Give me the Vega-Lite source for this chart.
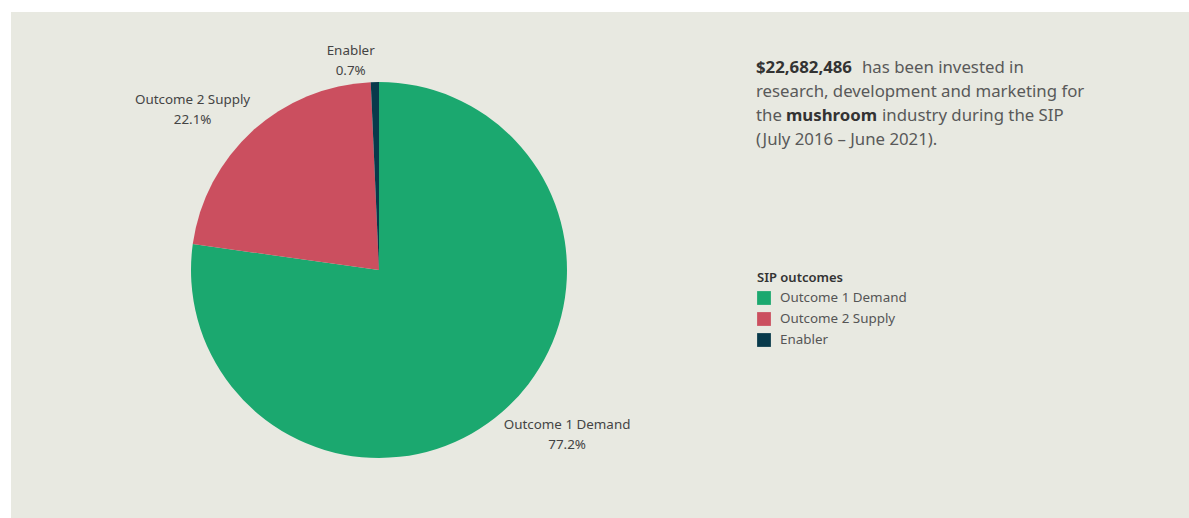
{
  "$schema": "https://vega.github.io/schema/vega-lite/v6.json",
  "background": "white",
  "padding": {"left": 11, "top": 12, "right": 0, "bottom": 0},
  "spacing": 0,
  "config": {
    "view": {"fill": "#e8e9e1", "stroke": null},
    "font": "Noto Sans",
    "concat": {"spacing": 0}
  },
  "hconcat": [
    {
      "width": 745,
      "height": 506,
      "view": {"fill": "#e8e9e1", "stroke": null},
      "data": {
        "values": [
          {"outcome": "Outcome 1 Demand", "rank": 1, "share": 77.2, "label": "Outcome 1 Demand\n77.2%"},
          {"outcome": "Outcome 2 Supply", "rank": 2, "share": 22.1, "label": "Outcome 2 Supply\n22.1%"},
          {"outcome": "Enabler", "rank": 3, "share": 0.7, "label": "Enabler\n0.7%"}
        ]
      },
      "encoding": {
        "theta": {"field": "share", "type": "quantitative", "stack": true},
        "order": {"field": "rank", "type": "quantitative", "sort": "ascending"}
      },
      "layer": [
        {
          "mark": {"type": "arc", "outerRadius": 188, "xOffset": -4.5, "yOffset": 5},
          "encoding": {
            "color": {
              "field": "outcome",
              "type": "nominal",
              "sort": ["Outcome 1 Demand", "Outcome 2 Supply", "Enabler"],
              "scale": {
                "domain": ["Outcome 1 Demand", "Outcome 2 Supply", "Enabler"],
                "range": ["#1ba86f", "#cb4f5f", "#083a4b"]
              },
              "legend": {
                "title": "SIP outcomes",
                "orient": "none",
                "legendX": 746,
                "legendY": 260,
                "symbolType": "square",
                "symbolSize": 190,
                "symbolStrokeWidth": 0,
                "labelFont": "Noto Sans",
                "labelFontSize": 13.4,
                "labelColor": "#555555",
                "titleFont": "Noto Sans",
                "titleFontSize": 13,
                "titleColor": "#333333",
                "titleFontWeight": 600,
                "rowPadding": 7,
                "labelOffset": 9,
                "titlePadding": 6
              }
            }
          }
        },
        {
          "mark": {
            "type": "text",
            "radius": 192,
            "font": "Noto Sans",
            "fontSize": 13.4,
            "lineBreak": "\n",
            "lineHeight": 20,
            "align": "center",
            "baseline": {"expr": "datum.outcome === 'Outcome 1 Demand' ? 'top' : 'bottom'"},
            "dx": {"expr": "datum.outcome === 'Outcome 1 Demand' ? 57.5 : datum.outcome === 'Outcome 2 Supply' ? -61.7 : -28.6"},
            "dy": {"expr": "datum.outcome === 'Outcome 1 Demand' ? 8.4 : datum.outcome === 'Outcome 2 Supply' ? -15.5 : -15"}
          },
          "encoding": {
            "text": {"field": "label", "type": "nominal"},
            "detail": {"field": "outcome", "type": "nominal"},
            "color": {"value": "#444444"}
          }
        }
      ]
    },
    {
      "width": 433,
      "height": 506,
      "view": {"fill": "#e8e9e1", "stroke": null},
      "data": {
        "values": [
          {"line": 1, "seg": "amount", "text": "$22,682,486"},
          {"line": 1, "seg": "invested", "text": "has been invested in"},
          {"line": 2, "seg": "research", "text": "research, development and marketing for"},
          {"line": 3, "seg": "the", "text": "the"},
          {"line": 3, "seg": "mushroom", "text": "mushroom"},
          {"line": 3, "seg": "industry", "text": "industry during the SIP"},
          {"line": 4, "seg": "period", "text": "(July 2016 – June 2021)."}
        ]
      },
      "mark": {
        "type": "text",
        "font": "Noto Sans",
        "fontSize": 16.8,
        "align": "left",
        "baseline": "alphabetic",
        "fontWeight": {"expr": "datum.seg === 'amount' || datum.seg === 'mushroom' ? 'bold' : 'normal'"},
        "dx": {"expr": "datum.seg === 'invested' ? 106 : datum.seg === 'mushroom' ? 30 : datum.seg === 'industry' ? 126 : 0"}
      },
      "encoding": {
        "x": {"value": 0},
        "y": {"field": "line", "type": "ordinal", "axis": null, "scale": {"type": "point", "range": [61, 133], "padding": 0}},
        "text": {"field": "text", "type": "nominal"},
        "color": {
          "condition": {"test": "datum.seg === 'amount' || datum.seg === 'mushroom'", "value": "#333333"},
          "value": "#595959"
        }
      }
    }
  ]
}
